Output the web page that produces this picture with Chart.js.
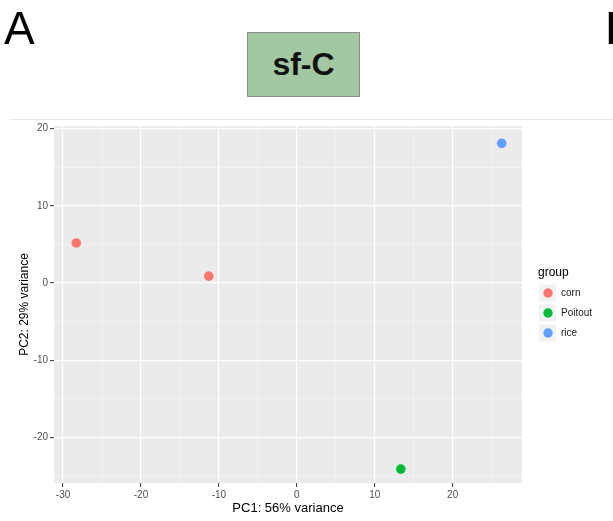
<!DOCTYPE html>
<html>
<head>
<meta charset="utf-8">
<script src="https://cdn.jsdelivr.net/npm/chart.js@4.4.1/dist/chart.umd.min.js"></script>
<style>
  html, body { margin: 0; padding: 0; background: #fff; }
  body { width: 613px; height: 521px; position: relative; overflow: hidden;
         font-family: "Liberation Sans", Arial, sans-serif; }
  #wrap { position: absolute; left: 0; top: 0; width: 613px; height: 521px; }
  .panel-letter { position: absolute; top: 2px; font-size: 46px; line-height: 52px; color: #000; }
  #tag { position: absolute; left: 247px; top: 32px; width: 111px; height: 63px;
         background: #a2c8a2; border: 1.5px solid #8c8c8c; text-align: center;
         font-weight: bold; font-size: 32px; line-height: 63px; color: #111; }
  #rule { position: absolute; left: 10px; top: 119px; width: 603px; height: 1px; background: #e8e8e8; }
</style>
</head>
<body>
<div id="wrap"><canvas id="pca"></canvas></div>
<div class="panel-letter" style="left:4px">A</div>
<div class="panel-letter" style="left:605px">B</div>
<div id="tag">sf-C</div>
<div id="rule"></div>
<script>
// PCA coordinates
const groups      = ["corn", "Poitout", "rice"];
const cornPC1     = [-28.3, -11.3];
const cornPC2     = [5.2, 0.9];
const poitoutPC1  = [13.35];
const poitoutPC2  = [-24.1];
const ricePC1     = [26.3];
const ricePC2     = [18.1];
const xTicks      = [-30, -20, -10, 0, 10, 20];
const yTicks      = [-20, -10, 0, 10, 20];

const colours = { corn: "#F8766D", Poitout: "#00BA38", rice: "#619CFF" };
const FONT = "'Liberation Sans', Arial, sans-serif";

const pts = (xs, ys) => xs.map((x, i) => ({ x, y: ys[i] }));
const seriesData = [pts(cornPC1, cornPC2), pts(poitoutPC1, poitoutPC2), pts(ricePC1, ricePC2)];

// major ticks + minor grid half way between
function withMinor(major, min, max) {
  const step = major[1] - major[0];
  const out = major.map(v => ({ value: v, major: true }));
  for (let v = major[0] - step / 2; v <= max; v += step) {
    if (v >= min) out.push({ value: v, major: false });
  }
  return out.sort((a, b) => a.value - b.value);
}

const gridOpts = {
  color: c => (c.tick && c.tick.major) ? "#ffffff" : "rgba(255,255,255,0.55)",
  lineWidth: c => (c.tick && c.tick.major) ? 1.2 : 0.7,
  tickColor: c => (c.tick && c.tick.major) ? "#333333" : "rgba(0,0,0,0)",
  tickWidth: 1,
  tickLength: 4,
  drawTicks: true
};
const tickFont = { family: FONT, size: 10 };

// ggplot grey panel
const panelBg = {
  id: "panelBg",
  beforeDraw(chart) {
    const { ctx, chartArea: a } = chart;
    ctx.save();
    ctx.fillStyle = "#EBEBEB";
    ctx.fillRect(a.left, a.top, a.right - a.left, a.bottom - a.top);
    ctx.restore();
  }
};

// ggplot-like legend on the right
const groupLegend = {
  id: "groupLegend",
  afterDraw(chart) {
    const { ctx, chartArea: a } = chart;
    const x0 = a.right + 16, y0 = 273;
    ctx.save();
    ctx.fillStyle = "#000";
    ctx.font = "12px " + FONT;
    ctx.textBaseline = "middle";
    ctx.fillText("group", x0, y0);
    groups.forEach((g, i) => {
      const cy = y0 + 20 + i * 20;
      ctx.fillStyle = "#F2F2F2";
      ctx.fillRect(x0 + 1, cy - 8.5, 17, 17);
      ctx.beginPath();
      ctx.arc(x0 + 10, cy, 4.7, 0, Math.PI * 2);
      ctx.fillStyle = colours[g];
      ctx.fill();
      ctx.fillStyle = "#1a1a1a";
      ctx.font = "10px " + FONT;
      ctx.fillText(g, x0 + 23, cy);
    });
    ctx.restore();
  }
};

new Chart(document.getElementById("pca"), {
  type: "scatter",
  data: {
    datasets: groups.map((g, i) => ({
      label: g,
      data: seriesData[i],
      backgroundColor: colours[g],
      borderWidth: 0,
      pointRadius: 4.8,
      pointHoverRadius: 4.8
    }))
  },
  options: {
    responsive: true,
    maintainAspectRatio: false,
    animation: false,
    layout: { padding: { top: 126, right: 91, bottom: 0, left: 0 } },
    plugins: { legend: { display: false }, tooltip: { enabled: false } },
    scales: {
      x: {
        type: "linear",
        min: -31.16, max: 28.9,
        border: { display: false },
        grid: gridOpts,
        afterBuildTicks: s => { s.ticks = withMinor(xTicks, s.min, s.max); },
        afterFit: s => { s.height = 38; },
        ticks: {
          autoSkip: false, maxRotation: 0, padding: 2,
          color: "#4D4D4D", font: tickFont,
          callback: (v, i, t) => t[i].major ? String(v) : ""
        },
        title: {
          display: true, text: "PC1: 56% variance", color: "#000",
          font: { family: FONT, size: 13 }, padding: { top: 0, bottom: 5 }
        }
      },
      y: {
        type: "linear",
        min: -25.9, max: 20.35,
        border: { display: false },
        grid: gridOpts,
        afterBuildTicks: s => { s.ticks = withMinor(yTicks, s.min, s.max); },
        afterFit: s => { s.width = 54; },
        ticks: {
          autoSkip: false, padding: 2,
          color: "#4D4D4D", font: tickFont,
          callback: (v, i, t) => t[i].major ? String(v) : ""
        },
        title: {
          display: true, text: "PC2: 29% variance", color: "#000",
          font: { family: FONT, size: 12 }, padding: { top: 17, bottom: 0 }
        }
      }
    }
  },
  plugins: [panelBg, groupLegend]
});
</script>
</body>
</html>
